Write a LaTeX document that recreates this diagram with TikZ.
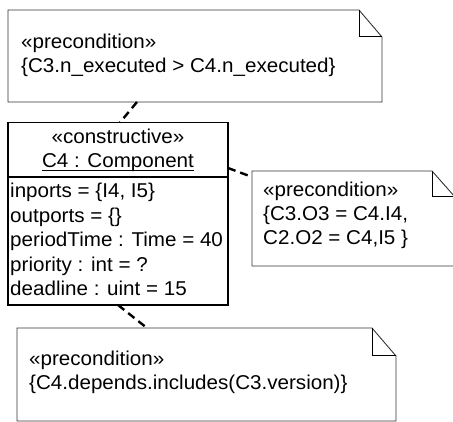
\documentclass[tikz,border=0pt]{standalone}
\usepackage{fontspec}
\setmainfont{Liberation Sans}[FakeStretch=1.03]
\usetikzlibrary{calc}
\begin{document}
\begin{tikzpicture}[x=1pt,y=-1pt,
  notebox/.style={draw=black!80, line width=0.9pt, line join=miter},
  foldline/.style={draw=black, line width=1pt},
  classbox/.style={draw=black, line width=1.4pt},
  txt/.style={inner sep=0pt, anchor=base west, font=\fontsize{20}{24}\selectfont},
  ctxt/.style={inner sep=0pt, anchor=base, font=\fontsize{20}{24}\selectfont},
  anchorline/.style={draw=black, line width=2.4pt, dash pattern=on 8pt off 5pt}]
\useasboundingbox (0,0) rectangle (453,422);
% top note
\coordinate (n1nw) at (8,10);
\coordinate (n1f1) at (359,10);
\coordinate (n1f2) at (382,37);
\coordinate (n1se) at (382,102);
\coordinate (n1sw) at (8,102);
\draw[notebox] (n1nw) -- (n1f1) -- (n1f2) -- (n1se) -- (n1sw) -- cycle;
\draw[foldline] (n1f1) -- (359,37) -- (n1f2);
\node[txt] (n1a) at (21,49) {«precondition»};
\node[txt] (n1b) at (21,73) {\{C3.n\_executed > C4.n\_executed\}};
% right note
\coordinate (n2nw) at (252,171);
\coordinate (n2f1) at (432,171);
\coordinate (n2f2) at (455,197);
\coordinate (n2se) at (455,266);
\coordinate (n2sw) at (252,266);
\draw[notebox] (n2nw) -- (n2f1) -- (n2f2) -- (n2se) -- (n2sw) -- cycle;
\draw[foldline] (n2f1) -- (432,197) -- (n2f2);
\node[txt] (n2a) at (263,197) {«precondition»};
\node[txt] (n2b) at (263,221) {\{C3.O3 = C4.I4,};
\node[txt] (n2c) at (263,245) {C2.O2 = C4,I5 \}};
% bottom note
\coordinate (n3nw) at (17,328);
\coordinate (n3f1) at (372,328);
\coordinate (n3f2) at (396,356);
\coordinate (n3se) at (396,421);
\coordinate (n3sw) at (17,421);
\draw[notebox] (n3nw) -- (n3f1) -- (n3f2) -- (n3se) -- (n3sw) -- cycle;
\draw[foldline] (n3f1) -- (372,356) -- (n3f2);
\node[txt] (n3a) at (29,366) {«precondition»};
\node[txt] (n3b) at (29,390) {\{C4.depends.includes(C3.version)\}};
% class box
\draw[classbox] (8,122.5) rectangle (228,305);
\draw[classbox] (8,177) -- (228,177);
\node[ctxt] (cst) at (118,144) {«constructive»};
\node[ctxt] (cnm) at (118,168) {C4 : Component};
\draw[line width=1pt] ($(cnm.base west)+(0,3)$) -- ($(cnm.base east)+(0,3)$);
\node[txt] (a1) at (10,198) {inports = \{I4, I5\}};
\node[txt] (a2) at (10,222.5) {outports = \{\}};
\node[txt] (a3) at (10,247) {periodTime : Time = 40};
\node[txt] (a4) at (10,271.5) {priority : int = ?};
\node[txt] (a5) at (10,296) {deadline : uint = 15};
% anchors
\coordinate (c1a) at (137,102);
\coordinate (c1b) at (120,122.5);
\coordinate (c2a) at (228,168);
\coordinate (c2b) at (252,177);
\coordinate (c3a) at (118,305);
\coordinate (c3b) at (147,328);
\draw[anchorline] (c1a) -- (c1b);
\draw[anchorline] (c2a) -- (c2b);
\draw[anchorline] (c3a) -- (c3b);
\end{tikzpicture}
\end{document}
